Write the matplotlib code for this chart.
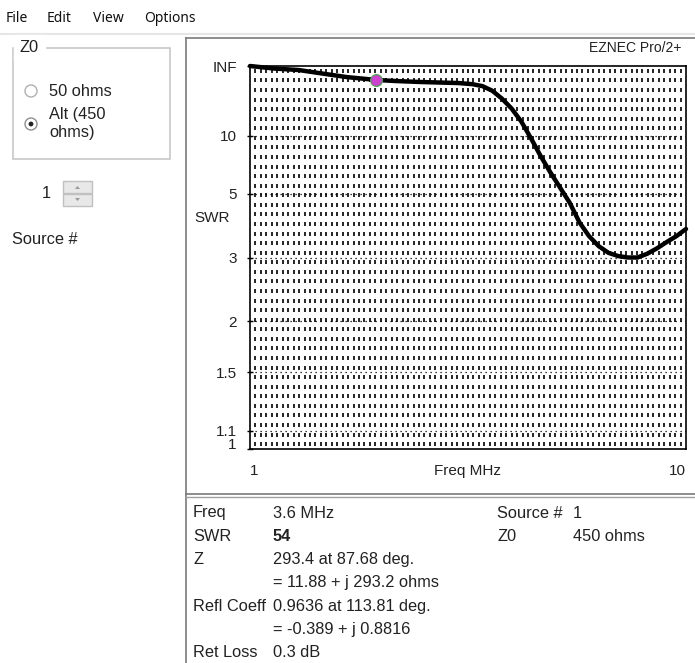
import matplotlib.pyplot as plt
import numpy as np
from matplotlib.patches import Rectangle, Circle, Polygon

# SWR sweep (Z0 = 450 ohms)
freq_mhz = [1.0, 1.5, 2.0, 2.5, 3.0, 3.6, 4.0, 4.5, 5.0, 5.3, 5.6, 5.8, 6.0, 6.2, 6.4, 6.6,
            6.8, 7.0, 7.2, 7.4, 7.6, 7.8, 8.0, 8.2, 8.4, 8.6, 8.8, 9.0, 9.2, 9.4, 9.6, 9.8, 10.0]
swr = [np.inf, 300, 191, 100, 68, 54, 50, 47, 45, 44, 41, 37, 30, 22.5, 17, 12.8,
       9.6, 7.5, 6.2, 5.3, 4.6, 3.9, 3.5, 3.25, 3.1, 3.03, 3.0, 3.0, 3.08, 3.2, 3.35, 3.5, 3.7]

marker_freq = 3.6
marker_swr = 54

swr_ticks = [1, 1.1, 1.5, 2, 3, 5, 10, np.inf]
swr_tick_labels = ["1", "1.1", "1.5", "2", "3", "5", "10", "INF"]

info_rows = [("Freq", "3.6 MHz"), ("SWR", "54"), ("Z", "293.4 at 87.68 deg."),
             ("", "= 11.88 + j 293.2 ohms"), ("Refl Coeff", "0.9636 at 113.81 deg."),
             ("", "= -0.389 + j 0.8816"), ("Ret Loss", "0.3 dB")]
info_right = [("Source #", "1"), ("Z0", "450 ohms")]


def refl(s):
    # |rho| from SWR, INF -> 1
    s = np.asarray(s, dtype=float)
    return 1 - 2 / (s + 1)


W, H = 695, 663
fig = plt.figure(figsize=(W / 100, H / 100), dpi=100)
fig.patch.set_facecolor("white")
font = "Liberation Sans"
ui_font = "Noto Sans"
txt = "#222222"
fs = 11.8

# background axes in pixel units for the window chrome
bg = fig.add_axes([0, 0, 1, 1])
bg.set_xlim(0, W)
bg.set_ylim(H, 0)
bg.axis("off")

# menu bar
for name, x in [("File", 6), ("Edit", 47), ("View", 93), ("Options", 144)]:
    bg.text(x, 18, name, fontsize=10, family=ui_font, va="center", color="#111111")
bg.plot([0, W], [34, 34], color="#e6e6e6", lw=1.5)

# plot frame and lower info panel
bg.plot([186, 186], [38, H], color="#7a7a7a", lw=1.2)
bg.plot([186, W], [38, 38], color="#7a7a7a", lw=1.2)
bg.plot([186, W], [494, 494], color="#7a7a7a", lw=1.2)
bg.plot([186, W], [497, 497], color="#a0a0a0", lw=1.0)

# Z0 group box
bg.add_patch(Rectangle((13, 48), 157, 111, fill=False, ec="#c8c8c8", lw=1.2))
bg.text(20, 48, "Z0", fontsize=fs, family=font, va="center", ha="left",
        backgroundcolor="white", color=txt)
bg.add_patch(Circle((31, 91), 6, fc="white", ec="#b0b0b0", lw=1.0))
bg.text(49, 91, "50 ohms", fontsize=fs, family=font, va="center", color=txt)
bg.add_patch(Circle((31, 124), 6, fc="white", ec="#909090", lw=1.0))
bg.add_patch(Circle((31, 124), 2.4, fc=txt, ec="none"))
bg.text(49, 114, "Alt (450", fontsize=fs, family=font, va="center", color=txt)
bg.text(49, 132, "ohms)", fontsize=fs, family=font, va="center", color=txt)

# source spinner
bg.text(51, 193, "1", fontsize=fs, family=font, va="center", ha="right", color=txt)
bg.add_patch(Rectangle((63, 181), 29, 12, fc="#e8e8e8", ec="#c0c0c0", lw=1))
bg.add_patch(Rectangle((63, 194), 29, 12, fc="#e8e8e8", ec="#c0c0c0", lw=1))
bg.add_patch(Polygon([[75, 189], [80, 189], [77.5, 186]], fc="#9a9a9a", ec="none"))
bg.add_patch(Polygon([[75, 198], [80, 198], [77.5, 201]], fc="#9a9a9a", ec="none"))
bg.text(12, 240, "Source #", fontsize=fs, family=font, va="center", color=txt)

bg.text(681, 48, "EZNEC Pro/2+", fontsize=10, family=font, va="center", ha="right",
        color=txt)

# info panel text
for i, (label, value) in enumerate(info_rows):
    y = 513 + i * 23.3
    bg.text(193, y, label, fontsize=fs, family=font, va="center", color=txt)
    bg.text(273, y, value, fontsize=fs, family=font, va="center", color=txt,
            weight="bold" if label == "SWR" else "normal")
for i, (label, value) in enumerate(info_right):
    y = 513 + i * 23.3
    bg.text(497, y, label, fontsize=fs, family=font, va="center", color=txt)
    bg.text(573, y, value, fontsize=fs, family=font, va="center", color=txt)

# SWR chart: y axis is linear in reflection coefficient
ax = fig.add_axes([250 / W, (H - 449) / H, 436 / W, 383 / H])
ax.set_xlim(1, 10)
ax.set_ylim(0, 1)

# dense dashed EZNEC grid
gx = np.linspace(1, 10, 81)[1:-1]
gy = (np.arange(40) + 0.5) / 40
GX, GY = np.meshgrid(gx, gy)
ax.plot(GX.ravel(), GY.ravel(), ls="none", marker="|", ms=3.2, mew=1.2, color="black")
for s in swr_ticks[1:-1]:
    ax.axhline(refl(s), color="black", lw=0.9, ls=(0, (1, 3)))

ax.plot(freq_mhz, refl(swr), color="black", lw=3.2, solid_capstyle="round", clip_on=False,
        zorder=5)
ax.plot([marker_freq], [refl(marker_swr)], marker="o", ms=8.5, mfc="#d040d0", mec="#3cb043",
        mew=0.8, ls="none", zorder=6)

for sp in ax.spines.values():
    sp.set_color("black")
    sp.set_linewidth(1.2)

ax.set_yticks(refl(swr_ticks))
ax.set_yticklabels(swr_tick_labels, family=font, fontsize=11, color=txt)
ax.tick_params(axis="y", direction="inout", length=5, width=1, pad=7)
ylabels = ax.get_yticklabels()
ylabels[0].set_verticalalignment("baseline")
ax.set_ylabel("SWR", family=font, fontsize=11, color=txt, rotation=0)
ax.yaxis.set_label_coords(-0.087, 0.585)

ax.set_xticks([1, 10])
ax.set_xticklabels(["1", "10"], family=font, fontsize=11, color=txt)
ax.tick_params(axis="x", length=0, pad=11)
xlabels = ax.get_xticklabels()
xlabels[0].set_horizontalalignment("left")
xlabels[1].set_horizontalalignment("right")
ax.set_xlabel("Freq MHz", family=font, fontsize=11, color=txt)
ax.xaxis.set_label_coords(0.5, -0.04)

fig.savefig("out.png", dpi=100)
